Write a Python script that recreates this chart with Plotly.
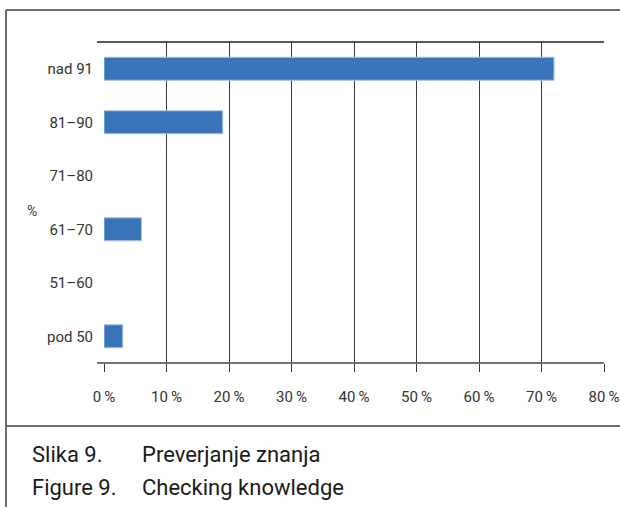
import plotly.graph_objects as go

categories = ["pod 50", "51–60", "61–70", "71–80", "81–90", "nad 91"]
values = [3, 0, 6, 0, 19, 72]
tick_vals = [0, 10, 20, 30, 40, 50, 60, 70, 80]
tick_text = ["0\u2009%", "10\u2009%", "20\u2009%", "30\u2009%", "40\u2009%",
             "50\u2009%", "60\u2009%", "70\u2009%", "80\u2009%"]
caption_labels = ["Slika 9.", "Figure 9."]
caption_texts = ["Preverjanje znanja", "Checking knowledge"]

W, H = 620, 507
L, R, T, B = 104, 16, 42, 144
pw, ph = W - L - R, H - T - B

def px(x):
    return (x - L) / pw

def py(y):
    return (H - B - y) / ph

FONT = "Roboto"
fig = go.Figure()
fig.add_trace(go.Bar(
    y=categories, x=values, orientation="h",
    marker=dict(color="#3a74b8",
                line=dict(color="#a8c3e6", width=[1 if v > 0 else 0 for v in values])),
    width=0.43,
))

line_col = "#6e6e6e"
shapes = [
    dict(type="line", xref="paper", yref="paper", x0=px(6), x1=px(620), y0=py(10), y1=py(10),
         line=dict(color=line_col, width=2)),
    dict(type="line", xref="paper", yref="paper", x0=px(6), x1=px(6), y0=py(10), y1=py(507),
         line=dict(color=line_col, width=2)),
    dict(type="line", xref="paper", yref="paper", x0=px(6), x1=px(620), y0=py(426), y1=py(426),
         line=dict(color=line_col, width=2)),
    dict(type="line", xref="paper", yref="paper", x0=px(97), x1=1, y0=1, y1=1,
         line=dict(color="#222", width=1.5)),
    dict(type="line", xref="paper", yref="paper", x0=px(97), x1=1, y0=0, y1=0,
         line=dict(color="#444", width=1.5)),
]

annotations = [
    dict(text="%", xref="paper", yref="paper", x=px(32), y=py(211), showarrow=False,
         font=dict(family=FONT, size=14, color="#333"), xanchor="center", yanchor="middle"),
]
for i, (lab, txt) in enumerate(zip(caption_labels, caption_texts)):
    yy = py(454 + i * 33)
    annotations.append(dict(text=lab, xref="paper", yref="paper", x=px(30), y=yy, showarrow=False,
                            xanchor="left", yanchor="middle",
                            font=dict(family=FONT, size=22, color="#1a1a1a")))
    annotations.append(dict(text=txt, xref="paper", yref="paper", x=px(140), y=yy, showarrow=False,
                            xanchor="left", yanchor="middle",
                            font=dict(family=FONT, size=22, color="#1a1a1a")))

fig.update_layout(
    width=W, height=H,
    margin=dict(l=L, r=R, t=T, b=B, pad=0, autoexpand=False),
    paper_bgcolor="white", plot_bgcolor="white",
    showlegend=False,
    bargap=0.57,
    shapes=shapes,
    annotations=annotations,
    xaxis=dict(range=[0, 80], tickvals=tick_vals, ticktext=tick_text,
               showgrid=True, gridcolor="#3a3a3a", gridwidth=1,
               ticks="outside", ticklen=8, tickcolor="#3a3a3a", tickwidth=1,
               ticklabelstandoff=12, automargin=False,
               zeroline=False, showline=False,
               tickfont=dict(family=FONT, size=15, color="#333"), fixedrange=True),
    yaxis=dict(categoryorder="array", categoryarray=categories,
               showgrid=False, zeroline=False, showline=False, ticks="",
               ticklabelstandoff=10, automargin=False,
               tickfont=dict(family=FONT, size=15, color="#333"), fixedrange=True),
)

fig.write_html("out.html", config={"displayModeBar": False},
               post_script="document.body.style.margin='0';document.body.style.overflow='hidden';")
